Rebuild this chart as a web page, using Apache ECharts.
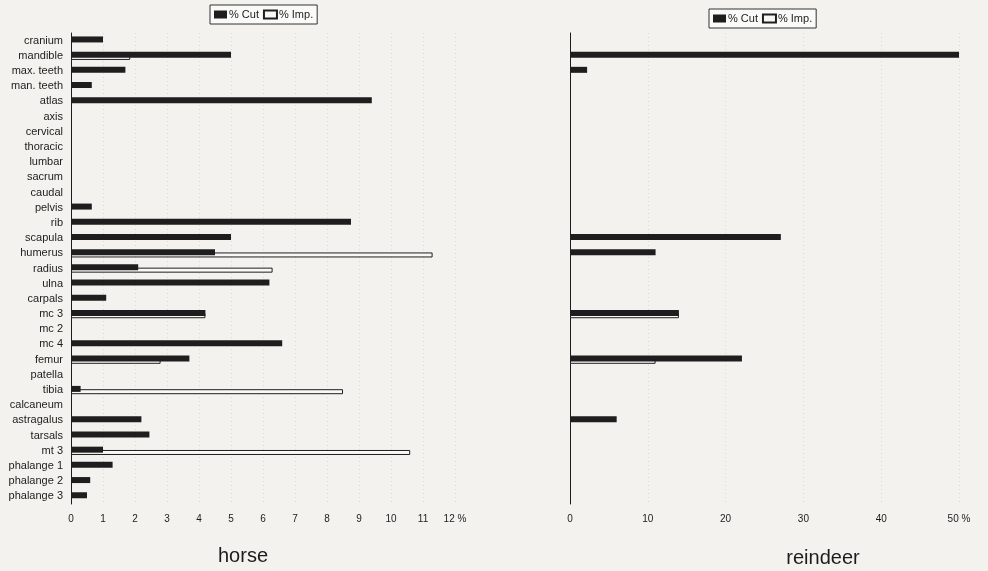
<!DOCTYPE html>
<html>
<head>
<meta charset="utf-8">
<script src="https://cdn.jsdelivr.net/npm/echarts@6/dist/echarts.min.js"></script>
<style>
  html, body { margin: 0; padding: 0; background: #f3f2ee; }
  #chart { width: 988px; height: 571px; }
</style>
</head>
<body>
<div id="chart"></div>
<script>
// Skeletal elements, top to bottom
const categories = ['cranium', 'mandible', 'max. teeth', 'man. teeth', 'atlas', 'axis', 'cervical',
  'thoracic', 'lumbar', 'sacrum', 'caudal', 'pelvis', 'rib', 'scapula', 'humerus', 'radius', 'ulna',
  'carpals', 'mc 3', 'mc 2', 'mc 4', 'femur', 'patella', 'tibia', 'calcaneum', 'astragalus',
  'tarsals', 'mt 3', 'phalange 1', 'phalange 2', 'phalange 3'];

// Horse: % cut marks and % impact marks
const horseCut = [1.0, 5.0, 1.7, 0.65, 9.4, null, null, null, null, null, null, 0.65, 8.75, 5.0, 4.5,
  2.1, 6.2, 1.1, 4.2, null, 6.6, 3.7, null, 0.3, null, 2.2, 2.45, 1.0, 1.3, 0.6, 0.5];
const horseImp = [null, 1.85, null, null, null, null, null, null, null, null, null, null, null, null,
  11.3, 6.3, null, null, 4.2, null, null, 2.8, null, 8.5, null, null, null, 10.6, null, null, null];

// Reindeer: % cut marks and % impact marks
const reindeerCut = [null, 50, 2.2, null, null, null, null, null, null, null, null, null, null, 27.1,
  11.0, null, null, null, 14.0, null, null, 22.1, null, null, null, 6.0, null, null, null, null, null];
const reindeerImp = [null, null, null, null, null, null, null, null, null, null, null, null, null, null,
  null, null, null, null, 14.0, null, null, 11.0, null, null, null, null, null, null, null, null, null];

const xMaxHorse = 12, xMaxReindeer = 50;
const legendNames = ['% Cut', '% Imp.'];
const panelTitles = ['horse', 'reindeer'];

const FONT = '"Liberation Sans", Arial, sans-serif';
const INK = '#1c1c1c';

const chart = echarts.init(document.getElementById('chart'));

function xAxisFor(gridIndex, max, interval) {
  return {
    type: 'value', gridIndex, min: 0, max, interval,
    axisLine: { show: false }, axisTick: { show: false },
    axisLabel: {
      color: INK, fontFamily: FONT, fontSize: 10, margin: 10,
      formatter: v => (v === max ? v + ' %' : String(v))
    },
    splitLine: { show: true, lineStyle: { color: 'rgba(0,0,0,0.10)', type: [1, 3], width: 1 } }
  };
}

function yAxisFor(gridIndex, showLabels) {
  return {
    type: 'category', gridIndex, data: categories, inverse: true,
    axisLine: { show: true, lineStyle: { color: INK, width: 1 } },
    axisTick: { show: false },
    axisLabel: { show: showLabels, interval: 0, color: INK, fontFamily: FONT, fontSize: 11, margin: 8 },
    splitLine: { show: false }
  };
}

function cutSeries(idx, data) {
  return {
    name: legendNames[0], type: 'bar', xAxisIndex: idx, yAxisIndex: idx, data,
    barWidth: 6, barGap: '-45%', z: 3,
    itemStyle: { color: '#1e1e1e' }
  };
}
function impSeries(idx, data) {
  return {
    name: legendNames[1], type: 'bar', xAxisIndex: idx, yAxisIndex: idx, data,
    barWidth: 5, z: 2,
    itemStyle: { color: '#f8f8f6', borderColor: '#1e1e1e', borderWidth: 1 }
  };
}

function legendAt(left, top) {
  return {
    data: legendNames.map(n => ({ name: n, icon: 'rect' })), left, top, orient: 'horizontal',
    itemWidth: 13, itemHeight: 8, itemGap: 4, padding: [4, 4, 4, 4],
    borderColor: '#333', borderWidth: 1, backgroundColor: '#fafaf8',
    textStyle: { color: INK, fontFamily: FONT, fontSize: 11, padding: [0, 0, 0, -3] },
    selectedMode: false
  };
}

chart.setOption({
  backgroundColor: '#f3f2ee',
  animation: false,
  title: [
    { text: panelTitles[0], left: 238, top: 541, textAlign: 'center',
      textStyle: { fontFamily: FONT, fontSize: 20, fontWeight: 'normal', color: INK } },
    { text: panelTitles[1], left: 818, top: 543, textAlign: 'center',
      textStyle: { fontFamily: FONT, fontSize: 20, fontWeight: 'normal', color: INK } }
  ],
  legend: [legendAt(210, 5), legendAt(709, 9)],
  grid: [
    { left: 71, right: 988 - 455, top: 33, bottom: 67 },
    { left: 570, right: 29, top: 33, bottom: 67 }
  ],
  xAxis: [xAxisFor(0, xMaxHorse, 1), xAxisFor(1, xMaxReindeer, 10)],
  yAxis: [yAxisFor(0, true), yAxisFor(1, false)],
  series: [
    cutSeries(0, horseCut), impSeries(0, horseImp),
    cutSeries(1, reindeerCut), impSeries(1, reindeerImp)
  ]
});
</script>
</body>
</html>
